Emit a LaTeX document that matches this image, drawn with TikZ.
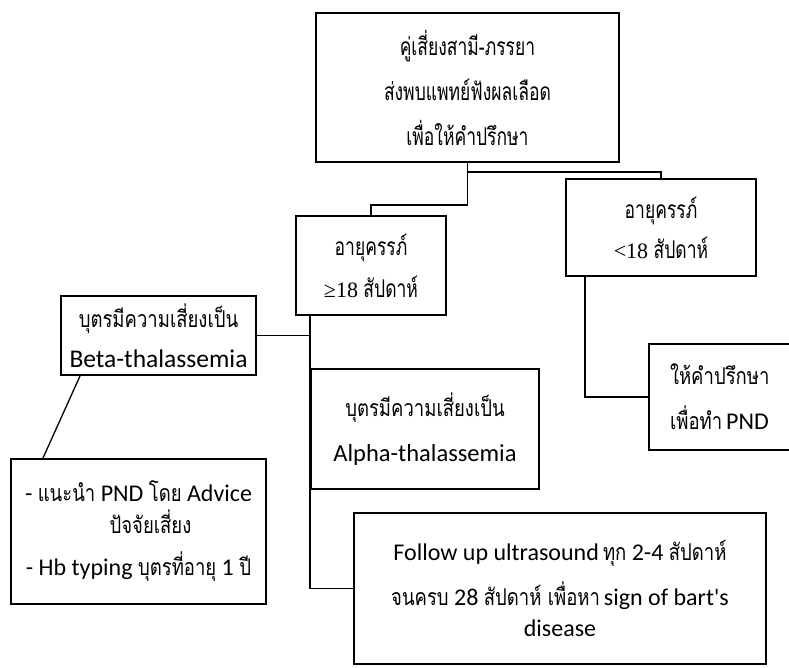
\documentclass[tikz,border=0pt]{standalone}
\usepackage{graphicx}
\usepackage{fontspec}
\setmainfont{Carlito}
\newfontfamily\thaiF[Script=Thai]{Loma}
\newfontfamily\serifF{Liberation Serif}
\newcommand\tha[1]{\scalebox{1}[1.4]{\thaiF\fontsize{17.5}{17.5}\selectfont #1}}
\newcommand\thb[1]{\scalebox{1}[1.25]{\thaiF\fontsize{18.5}{18.5}\selectfont #1}}
\newcommand\sra[1]{{\serifF\fontsize{22}{22}\selectfont #1}}
\begin{document}
\begin{tikzpicture}[x=1pt,y=-1pt,
  box/.style={draw=black, line width=2pt, inner sep=0pt, anchor=north west, align=center},
  link/.style={draw=black, line width=1.3pt}]
\clip (0,0) rectangle (789,668);
\fill[white] (0,0) rectangle (789,668);
% boxes
\node[box, minimum width=303, minimum height=149, font=\fontsize{24}{45}\selectfont] (top) at (315,12)
  {\tha{คู่เสี่ยงสามี-ภรรยา}\\ \tha{ส่งพบแพทย์ฟังผลเลือด}\\ \tha{เพื่อให้คำปรึกษา}};
\node[box, minimum width=150, minimum height=99, font=\fontsize{24}{42}\selectfont] (ge) at (295,215)
  {\tha{อายุครรภ์}\\ \sra{≥18} \tha{สัปดาห์}};
\node[box, minimum width=190, minimum height=97, font=\fontsize{24}{40}\selectfont] (lt) at (565,178)
  {\tha{อายุครรภ์}\\ \sra{<18} \tha{สัปดาห์}};
\node[box, minimum width=195, minimum height=79, font=\fontsize{25.5}{40}\selectfont] (beta) at (60,295)
  {\thb{บุตรมีความเสี่ยงเป็น}\\ Beta-thalassemia};
\node[box, minimum width=228, minimum height=120, font=\fontsize{24.5}{45}\selectfont] (alpha) at (310,368)
  {\thb{บุตรมีความเสี่ยงเป็น}\\ Alpha-thalassemia};
\node[box, text width=112, inner xsep=21, align=left, minimum height=106, font=\fontsize{24}{45}\selectfont] (pnd) at (648,343)
  {\thb{ให้คำปรึกษา}\\ \thb{เพื่อทำ}\,PND};
\node[box, minimum width=255, minimum height=145, font=\fontsize{24}{32}\selectfont] (hb) at (10,458)
  {- \thb{แนะนำ} PND \thb{โดย} Advice\\ \hspace*{24pt}\thb{ปัจจัยเสี่ยง}\\[10pt] - Hb typing \thb{บุตรที่อายุ} 1 \thb{ปี}};
\node[box, minimum width=412, minimum height=151, font=\fontsize{24}{31}\selectfont] (follow) at (353,512)
  {Follow up ultrasound\,\thb{ทุก} 2-4 \thb{สัปดาห์}\\[14pt] \thb{จนครบ} 28 \thb{สัปดาห์ เพื่อหา}\,sign of bart\textquotesingle s\\ disease};
% connectors
\draw[link] (top.south) -- ++(0,42) -| (ge.north);
\draw[link] (top.south) -- ++(0,9) -| (lt.north);
\draw[link] ([xshift=15pt]ge.south west) |- (follow.west);
\draw[link] (beta.east) -- (beta.east -| alpha.west);
\draw[link] ([xshift=20pt]beta.south west) -- ([xshift=33pt]hb.north west);
\draw[link] ([xshift=20pt]lt.south west) |- (pnd.west);
\end{tikzpicture}
\end{document}
